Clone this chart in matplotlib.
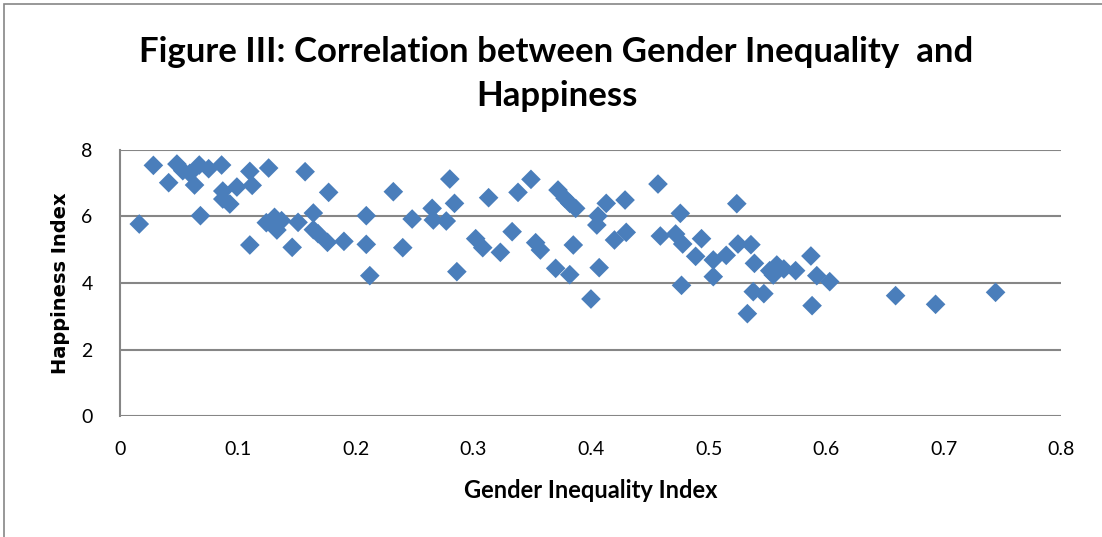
import matplotlib
matplotlib.use('Agg')
import matplotlib.pyplot as plt
from matplotlib.patches import Rectangle

# Gender Inequality Index vs Happiness Index
gii = [0.016, 0.028, 0.041, 0.048, 0.053, 0.059, 0.063, 0.067, 0.068, 0.075,
       0.086, 0.087, 0.087, 0.093, 0.099, 0.110, 0.110, 0.112, 0.126, 0.124,
       0.131, 0.133, 0.137, 0.146, 0.151, 0.157, 0.164, 0.164, 0.168, 0.176,
       0.177, 0.190, 0.209, 0.209, 0.212, 0.232, 0.240, 0.248, 0.265, 0.266,
       0.277, 0.280, 0.284, 0.286, 0.302, 0.308, 0.313, 0.323, 0.333, 0.338,
       0.349, 0.353, 0.357, 0.370, 0.372, 0.378, 0.382, 0.382, 0.385, 0.387,
       0.400, 0.405, 0.406, 0.407, 0.413, 0.420, 0.429, 0.430, 0.457, 0.459,
       0.472, 0.476, 0.477, 0.478, 0.489, 0.494, 0.504, 0.504, 0.515, 0.524,
       0.525, 0.536, 0.533, 0.538, 0.539, 0.547, 0.552, 0.555, 0.558, 0.564,
       0.574, 0.587, 0.588, 0.592, 0.603, 0.659, 0.693, 0.744]
happiness = [5.77, 7.53, 7.01, 7.57, 7.37, 7.29, 6.94, 7.54, 6.02, 7.43,
             7.54, 6.76, 6.52, 6.37, 6.88, 7.35, 5.14, 6.93, 7.45, 5.81,
             5.97, 5.59, 5.87, 5.07, 5.82, 7.34, 6.10, 5.60, 5.48, 5.22,
             6.72, 5.25, 6.02, 5.16, 4.22, 6.74, 5.06, 5.92, 6.24, 5.89,
             5.86, 7.12, 6.39, 4.34, 5.33, 5.06, 6.56, 4.92, 5.54, 6.72,
             7.11, 5.21, 4.99, 4.44, 6.79, 6.54, 6.39, 4.25, 5.14, 6.24,
             3.52, 5.74, 6.01, 4.46, 6.39, 5.29, 6.49, 5.52, 6.97, 5.41,
             5.47, 6.09, 3.93, 5.17, 4.80, 5.33, 4.69, 4.19, 4.83, 6.38,
             5.17, 5.15, 3.08, 3.74, 4.59, 3.68, 4.37, 4.24, 4.54, 4.42,
             4.37, 4.81, 3.32, 4.22, 4.04, 3.62, 3.36, 3.72]

x_ticks = [0, 0.1, 0.2, 0.3, 0.4, 0.5, 0.6, 0.7, 0.8]
x_labels = ['0', '0.1', '0.2', '0.3', '0.4', '0.5', '0.6', '0.7', '0.8']
y_ticks = [0, 2, 4, 6, 8]

title = 'Figure III: Correlation between Gender Inequality  and\nHappiness'
xlabel = 'Gender Inequality Index'
ylabel = 'Happiness Index'

font = 'Lato'
grid_col = '#868686'

fig = plt.figure(figsize=(11.02, 5.37), dpi=100)
# chart area border (cropped at right and bottom)
fig.patches.append(Rectangle((4/1102, -0.1), 1.2, 1 - 4/537 + 0.1, transform=fig.transFigure,
                             fill=False, edgecolor=grid_col, linewidth=1.2))

ax = fig.add_axes([0.1093, 0.2248, 0.8539, 0.4964])
ax.scatter(gii, happiness, marker='D', s=100, color='#4A7EBB', edgecolor='none', zorder=3)
ax.set_xlim(0, 0.8)
ax.set_ylim(0, 8)
ax.set_xticks(x_ticks)
ax.set_xticklabels(x_labels, fontfamily=font, fontsize=14)
ax.set_yticks(y_ticks)
ax.set_yticklabels([str(t) for t in y_ticks], fontfamily=font, fontsize=14)
ax.tick_params(length=0, pad=18)
ax.tick_params(axis='y', pad=20)
ax.grid(axis='y', color=grid_col, linewidth=1.5)
ax.set_axisbelow(True)
for s in ['top', 'right', 'bottom']:
    ax.spines[s].set_visible(False)
ax.spines['left'].set_color(grid_col)
ax.spines['left'].set_linewidth(1.5)

ax.set_xlabel(xlabel, fontfamily=font, fontweight='bold', fontsize=17, labelpad=15)
fig.text(0.055, 0.473, ylabel, rotation=90, ha='center', va='center',
         fontfamily='DejaVu Sans', fontweight='bold', fontsize=14)
fig.text(0.505, 0.862, title, ha='center', va='center', fontfamily=font,
         fontweight='bold', fontsize=25, linespacing=1.45)

fig.savefig('out.png', dpi=100)
plt.close(fig)
